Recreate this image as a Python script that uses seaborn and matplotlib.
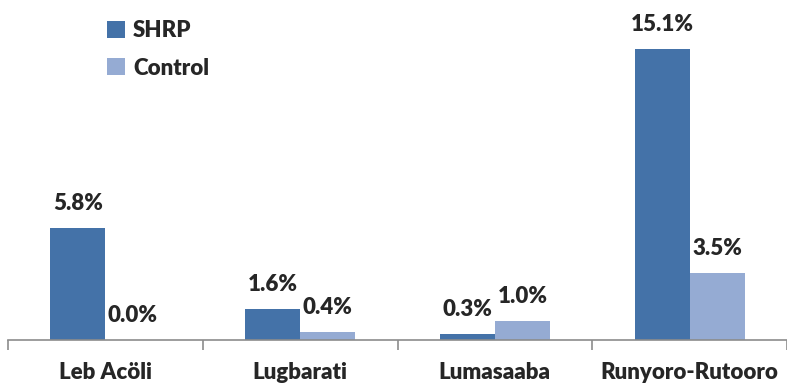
import numpy as np
import matplotlib
matplotlib.use("Agg")
import matplotlib.pyplot as plt
import pandas as pd
import seaborn as sns

languages = ["Leb Acöli", "Lugbarati", "Lumasaaba", "Runyoro-Rutooro"]
shrp = [5.8, 1.6, 0.3, 15.1]
control = [0.0, 0.4, 1.0, 3.5]
groups = ["SHRP", "Control"]
colors = ["#4472A8", "#95ABD3"]

sns.set_style("white")
plt.rcParams['font.family'] = ['Lato', 'DejaVu Sans']
weight = "heavy"

df = pd.DataFrame({
    "language": languages * 2,
    "group": [groups[0]] * 4 + [groups[1]] * 4,
    "value": shrp + control,
})

fig = plt.figure(figsize=(7.87, 3.85), dpi=100)
ax = fig.add_axes([8 / 787, 45 / 385, 779 / 787, 340 / 385])

sns.barplot(ax=ax, data=df, x="language", y="value", hue="group",
            palette=colors, width=0.565, gap=0, linewidth=0, saturation=1)

for cont in ax.containers:
    ax.bar_label(cont, fmt="%.1f%%", padding=10, fontsize=16,
                 fontweight=weight)

ax.set_xlim(-0.5, 3.5)
ax.set_ylim(0, 17.64)
ax.set_xlabel("")
ax.set_ylabel("")
ax.set_yticks([])
for s in ["top", "right", "left"]:
    ax.spines[s].set_visible(False)
ax.spines["bottom"].set_color("#8C8C8C")
ax.spines["bottom"].set_linewidth(1.2)

ax.set_xticks(np.arange(4))
ax.set_xticklabels(languages, fontsize=16, fontweight=weight)
ax.tick_params(axis="x", which="major", length=0, pad=16)
ax.set_xticks(np.arange(-0.5, 4, 1), minor=True)
ax.tick_params(axis="x", which="minor", length=7, width=1.2, color="#8C8C8C",
               direction="out", bottom=True)

leg = ax.legend(loc="upper left", bbox_to_anchor=(0.102, 1.0), frameon=False,
                handlelength=0.8, handleheight=0.8, handletextpad=0.35,
                labelspacing=0.75, borderaxespad=0.5,
                prop={"weight": weight, "size": 16})

fig.savefig("out.png", dpi=100)
